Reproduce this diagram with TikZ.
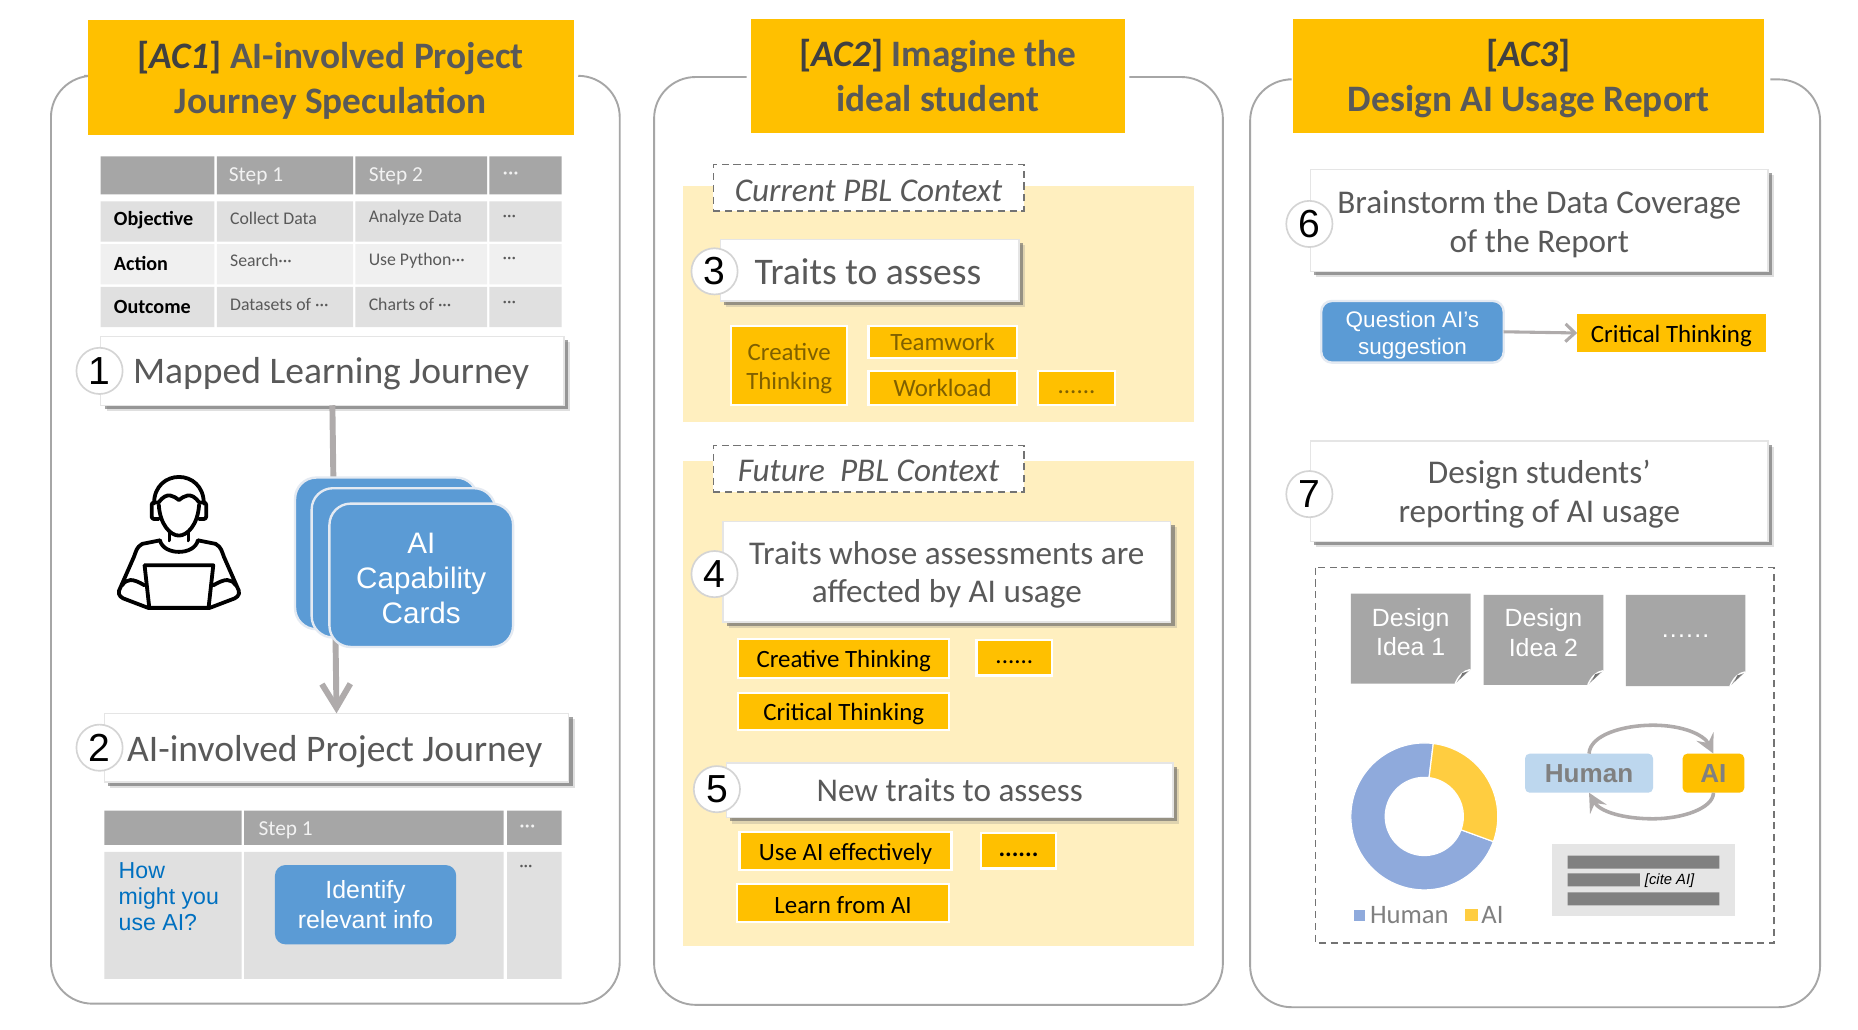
\documentclass[tikz,border=0pt]{standalone}
\usepackage{fontspec}
\usetikzlibrary{shadows,arrows.meta}
\newfontfamily\fcal{Carlito}
\newfontfamily\farial{Liberation Sans}
\definecolor{amber}{HTML}{FFC000}
\definecolor{peach}{HTML}{FFEFBF}
\definecolor{cardblue}{HTML}{5B9BD5}
\definecolor{cardedge}{HTML}{E4EAF2}
\definecolor{panelgray}{HTML}{A6A6A6}
\definecolor{txt}{HTML}{595959}
\definecolor{arrowgray}{HTML}{AFABAB}
\definecolor{cellA}{HTML}{E0E0E0}
\definecolor{cellB}{HTML}{F0F0F0}
\definecolor{brown}{HTML}{7F6000}
\definecolor{donutblue}{HTML}{8FAADC}
\definecolor{donutyellow}{HTML}{FFCD40}
\definecolor{linkblue}{HTML}{0070C0}
\definecolor{pillblue}{HTML}{BDD7EE}
\newcommand{\bx}[7]{%
 \pgfmathsetmacro\cxx{(#2+#4)/2}\pgfmathsetmacro\cyy{(#3+#5)/2}%
 \pgfmathsetmacro\wdd{#4-#2}\pgfmathsetmacro\htt{#5-#3}%
 \node[#6,minimum width=\wdd pt,minimum height=\htt pt,inner sep=0pt,outer sep=0pt,align=center] (#1) at (\cxx,\cyy) {#7};}
\newcommand{\dn}[1]{\vrule width0pt height#1pt\relax}
\newcommand{\hdr}[2]{{\color{black!75}[\textit{#1}]}#2}
\newcommand{\note}[4]{% x1 y1 x2 y2
 \fill[panelgray] (#1,#2) -- (#3,#2) -- (#3,#4-12) -- (#3-13,#4) -- (#1,#4) -- cycle;
 \draw[white,line width=1.2pt] (#3,#4-12) .. controls (#3-6,#4-11) and (#3-10,#4-7) .. (#3-13,#4);
 \fill[black!55] (#3-3,#4-10) -- (#3-7,#4-9) -- (#3-9,#4-4) -- cycle;}
\tikzset{
 panel/.style={draw=panelgray,line width=1.6pt,rounded corners=35pt},
 header/.style={fill=amber,text=txt,font=\fcal\bfseries\fontsize{31.5}{38}\selectfont},
 shbox/.style={fill=white,draw=black!10,line width=1.2pt,text=txt,
   font=\fcal\fontsize{31.7}{33}\selectfont,
   drop shadow={shadow xshift=5pt,shadow yshift=-5pt,fill=black!50,opacity=.25},
   drop shadow={shadow xshift=3.2pt,shadow yshift=-3.2pt,fill=black!60,opacity=.6}},
 shboxs/.style={shbox,font=\fcal\fontsize{28}{32.5}\selectfont},
 num/.style={circle,fill=white,draw=black!17,line width=1.4pt,minimum size=39pt,inner sep=0pt,
   font=\farial\fontsize{33}{33}\selectfont,text=black},
 dashbox/.style={fill=white,draw=black!55,dash pattern=on 6pt off 4pt,line width=1.3pt,text=txt,
   font=\fcal\itshape\fontsize{28}{30}\selectfont},
 trait/.style={fill=amber,draw=white,line width=2pt,text=brown,
   font=\fcal\fontsize{21}{25}\selectfont},
 btrait/.style={fill=amber,draw=white,line width=2pt,text=black,
   font=\fcal\fontsize{21}{25}\selectfont},
 card/.style={fill=cardblue,draw=cardedge,line width=2pt,rounded corners=18pt,text=white,
   font=\farial\fontsize{25}{29.5}\selectfont},
 blue/.style={fill=cardblue,text=white,rounded corners=9pt,font=\farial\fontsize{21}{25.5}\selectfont},
 notetext/.style={text=white,font=\farial\fontsize{21}{25}\selectfont},
 th/.style={anchor=west,inner sep=0pt,text=white!95!black,font=\fcal\fontsize{18}{18}\selectfont},
 tl/.style={anchor=west,inner sep=0pt,text=black,font=\fcal\bfseries\fontsize{17}{18}\selectfont},
 td/.style={anchor=west,inner sep=0pt,text=txt,font=\fcal\fontsize{15}{18}\selectfont},
 loopa/.style={draw=arrowgray,line width=3pt,-{Stealth[length=16pt,width=16pt,inset=6pt]}},
 legend/.style={anchor=west,inner sep=0pt,text=black!50,font=\fcal\fontsize{22.5}{24}\selectfont},
 pill/.style={rounded corners=4pt,text=black!50,font=\farial\bfseries\fontsize{22}{24}\selectfont},
}
\begin{document}
\begin{tikzpicture}[x=1pt,y=-1pt]
\useasboundingbox (0,0) rectangle (1568,869);
\fill[white] (0,0) rectangle (1568,869);
% ---------- panels
\draw[panel] (71,64) -- (43,64) -- (43,847) -- (523,847) -- (523,64) -- (488,64);
\draw[panel] (630,65) -- (552,65) -- (552,848) -- (1032,848) -- (1032,65) -- (953,65);
\draw[panel] (1087,67) -- (1055,67) -- (1055,850) -- (1536,850) -- (1536,67) -- (1494,67);
% ---------- headers
\bx{hA}{74}{17}{484}{114}{header}{\rule{0pt}{27pt}\hdr{AC1}{ AI-involved Project}\\Journey Speculation}
\bx{hB}{634}{16}{949}{112}{header}{\hdr{AC2}{ Imagine the}\\ideal student}
\bx{hC}{1091}{16}{1489}{112}{header}{\rule{0pt}{27pt}\hdr{AC3}{}\\Design AI Usage Report}
% ---------- table 1
\fill[panelgray] (85,132) rectangle (181,164) (183,132) rectangle (298,164) (300,132) rectangle (411,164) (413,132) rectangle (474,164);
\fill[cellA] (85,170) rectangle (181,204) (183,170) rectangle (298,204) (300,170) rectangle (411,204) (413,170) rectangle (474,204);
\fill[cellB] (85,206) rectangle (181,240) (183,206) rectangle (298,240) (300,206) rectangle (411,240) (413,206) rectangle (474,240);
\fill[cellA] (85,242) rectangle (181,276) (183,242) rectangle (298,276) (300,242) rectangle (411,276) (413,242) rectangle (474,276);
\node[th] (t11) at (193,149) {Step 1};
\node[th] (t12) at (311,149) {Step 2};
\node[th] (t13) at (424,148) {···};
\node[tl] (t21) at (96,186) {Objective};
\node[td] (t22) at (194,184) {Collect Data};
\node[td] (t23) at (311,184) {Analyze Data};
\node[td] (t24) at (424,184) {···};
\node[tl] (t31) at (96,222) {Action};
\node[td] (t32) at (194,220) {Search···};
\node[td] (t33) at (311,220) {Use Python···};
\node[td] (t34) at (424,220) {···};
\node[tl] (t41) at (96,259) {Outcome};
\node[td] (t42) at (194,257) {Datasets of ···};
\node[td] (t43) at (311,257) {Charts of ···};
\node[td] (t44) at (424,257) {···};
% ---------- journey boxes
\bx{mapped}{85}{284}{476}{342}{shbox}{\dn{27}\hspace*{-2pt}Mapped Learning Journey}
\bx{involved}{88}{602}{480}{660}{shbox}{\dn{29}\hspace*{-3pt}AI-involved Project Journey}
\draw[draw=arrowgray,line width=5pt,-{Straight Barb[length=20pt,width=24pt,line width=5pt]}] (mapped.south) -- (involved.north);
\node[num] (n1) at (84,313) {1};
\node[num] (n2) at (84,631) {2};
% person icon
\begin{scope}[line width=3.2pt,line join=round,line cap=round]
 \draw (130,425) .. controls (130,395) and (172,395) .. (172,425);
 \draw (134,424) .. controls (141,414) and (147,419) .. (151,422) .. controls (155,419) and (161,414) .. (168,424);
 \draw (134,426) .. controls (135,443) and (144,452) .. (151,452) .. controls (158,452) and (167,443) .. (168,426);
 \draw[rounded corners=2pt] (134,424) -- (128,424) -- (128,438) -- (134,438);
 \draw[rounded corners=2pt] (168,424) -- (174,424) -- (174,438) -- (168,438);
 \draw (143,449) -- (143,456) (159,449) -- (159,456);
 \draw (135,456) .. controls (138,469) and (164,469) .. (167,456);
 \draw (135,456) -- (120,459) .. controls (115,462) and (115,465) .. (113,470) -- (102,495)
       .. controls (99,500) and (100,503) .. (104,505) -- (125,513) -- (177,513) -- (198,505)
       .. controls (202,503) and (203,500) .. (200,495) -- (189,470) .. controls (187,465) and (187,462) .. (182,459) -- (167,456);
 \draw (103,494) .. controls (107,488) and (112,488) .. (122,494);
 \draw (199,494) .. controls (195,488) and (190,488) .. (180,494);
 \draw (122,477) -- (180,477) -- (176,513) (122,477) -- (126,513);
\end{scope}
% cards
\bx{c1}{249}{403}{403}{531}{card}{}
\bx{c2}{263}{412}{418}{538}{card}{}
\bx{c3}{278}{425}{433}{546}{card}{\dn{22}AI\\Capability\\Cards}
% ---------- table 2
\fill[panelgray] (88,684) rectangle (204,713) (206,684) rectangle (425,713) (428,684) rectangle (474,713);
\fill[cellA] (88,719) rectangle (204,826) (206,719) rectangle (425,826) (428,719) rectangle (474,826);
\node[th] (u1) at (218,701) {Step 1};
\node[th] (u2) at (438,699) {···};
\node[td] (u3) at (438,733) {···};
\node[anchor=north west,inner sep=0pt,align=left,text=linkblue,font=\farial\fontsize{19.5}{22}\selectfont] (how) at (100,728) {How\\might you\\use AI?};
\bx{ident}{232}{730}{385}{797}{blue}{Identify\\relevant info}
% ---------- AC2
\fill[peach] (576,157) rectangle (1008,356);
\fill[peach] (576,389) rectangle (1008,798);
\bx{cur}{602}{139}{864}{178}{dashbox}{\dn{22.5}Current PBL Context}
\bx{fut}{602}{376}{864}{415}{dashbox}{\dn{22.5}Future\ \ PBL Context}
\bx{b3}{608}{202}{860}{254}{shbox}{\dn{25}\hspace*{-3pt}Traits to assess}
\node[num] (n3) at (603,229) {3};
\bx{s1}{617}{275}{715}{342}{trait}{\dn{19.5}Creative\\Thinking}
\bx{s2}{733}{275}{858}{302}{trait}{Teamwork}
\bx{s3}{733}{313}{858}{342}{trait}{Workload}
\bx{s4}{876}{313}{941}{342}{trait}{\strut......}
\bx{b4}{610}{440}{988}{525}{shboxs}{\dn{24.5}Traits whose assessments are\\affected by AI usage}
\node[num] (n4) at (603,484.5) {4};
\bx{s5}{623}{539}{801}{572}{btrait}{\dn{19.5}Creative Thinking}
\bx{s6}{824}{540}{888}{570}{btrait}{\strut......}
\bx{s7}{623}{585}{801}{616}{btrait}{\dn{19.5}Critical Thinking}
\bx{b5}{613}{644}{990}{690}{shboxs}{New traits to assess}
\node[num] (n5) at (605,666) {5};
\bx{s8}{624}{702}{803}{734}{btrait}{\dn{19.5}Use AI effectively}
\bx{s9}{828}{703}{891}{733}{btrait}{\strut\textbf{......}}
\bx{s10}{622}{746}{801}{778}{btrait}{\dn{17.5}Learn from AI}
% ---------- AC3
\bx{b6}{1106}{143}{1492}{229}{shboxs}{\dn{25.5}Brainstorm the Data Coverage\\of the Report}
\node[num] (n6) at (1105,189) {6};
\bx{q}{1115}{254}{1269}{306}{blue,draw=cardedge,line width=2pt,font=\farial\fontsize{19}{22.5}\selectfont}{\dn{20}Question AI’s\\suggestion}
\bx{ct}{1331}{265}{1490}{297}{fill=amber,text=black,font=\fcal\fontsize{21}{25}\selectfont}{\dn{19.5}Critical Thinking}
\draw[draw=arrowgray,line width=2.6pt,-{Straight Barb[length=8pt,width=15pt,line width=2.6pt]}] (q.east) -- (ct.west);
\bx{b7}{1106}{372}{1492}{457}{shboxs}{\dn{24.5}Design students’\\reporting of AI usage}
\node[num] (n7) at (1105,417) {7};
\draw[draw=black!55,dash pattern=on 6pt off 4pt,line width=1.3pt] (1110,479) rectangle (1497,796);
\note{1140}{501}{1241}{577}
\note{1252}{502}{1353}{578}
\note{1372}{502}{1473}{579}
\bx{d1}{1140}{501}{1241}{566}{notetext}{Design\\Idea 1}
\bx{d2}{1252}{502}{1353}{566}{notetext}{Design\\Idea 2}
\bx{d3}{1372}{502}{1473}{572}{notetext}{.\kern1pt.\kern1pt.\kern1pt.\kern1pt.\kern1pt.}
% donut
\begin{scope}[shift={(1202,689)},y=1pt,draw=white,line width=1pt]
 \filldraw[fill=donutblue] (83:62) arc[start angle=83,end angle=340,radius=62] -- (340:33) arc[start angle=340,end angle=83,radius=33] -- cycle;
 \filldraw[fill=donutyellow] (83:62) arc[start angle=83,end angle=-20,radius=62] -- (-20:33) arc[start angle=-20,end angle=83,radius=33] -- cycle;
\end{scope}
\fill[donutblue] (1143,768) rectangle (1152,777);
\node[legend] (lh) at (1156,772) {Human};
\fill[donutyellow] (1236,767) rectangle (1247,777);
\node[legend] (la) at (1250,772) {AI};
% human / AI loop
\bx{human}{1287}{636}{1395}{669}{pill,fill=pillblue}{Human}
\bx{ai}{1420}{636}{1472}{669}{pill,fill=amber}{AI}
\draw[loopa] (human.north) .. controls (1342,620) and (1370,612) .. (1395,612) .. controls (1420,612) and (1438,620) .. (ai.north);
\draw[loopa] (ai.south) .. controls (1446,682) and (1420,691) .. (1395,691) .. controls (1370,691) and (1350,685) .. (human.south);
% citation
\fill[black!10] (1310,712) rectangle (1464,773);
\fill[black!50] (1323,722) rectangle (1451,733) (1323,737) rectangle (1384,748) (1323,753) rectangle (1451,764);
\node[anchor=west,inner sep=0pt,text=black,font=\farial\itshape\fontsize{12.5}{13}\selectfont] (cite) at (1388,743) {[cite AI]};
\end{tikzpicture}
\end{document}
